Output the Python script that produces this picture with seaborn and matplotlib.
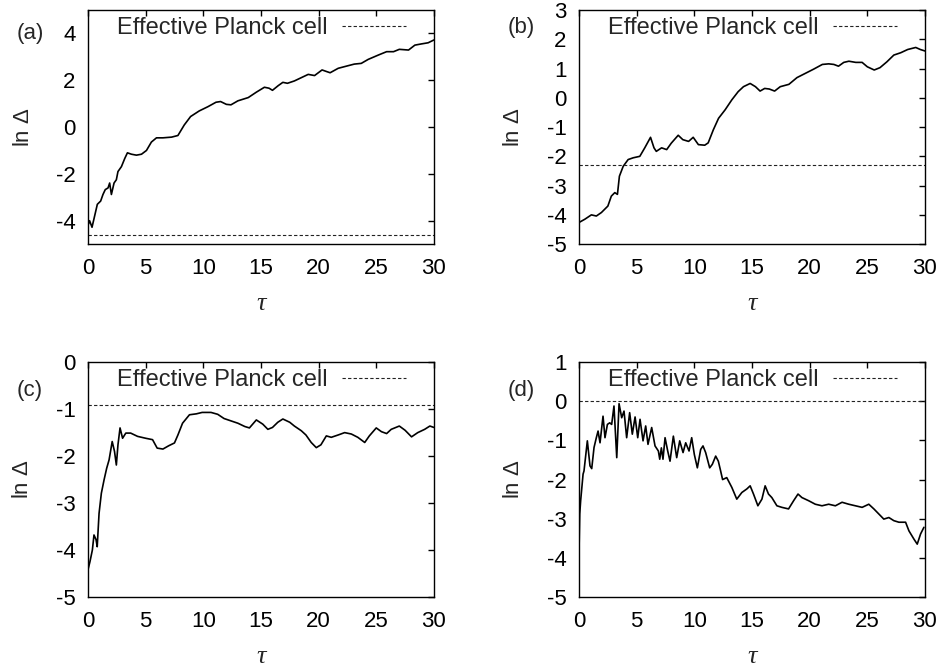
import numpy as np
import pandas as pd
import seaborn as sns
import matplotlib
matplotlib.use("Agg")
import matplotlib.pyplot as plt
from matplotlib.lines import Line2D

# podaci ocitani sa slike: tau i ln(Delta) za svaki panel
tau_a = [0.0, 0.14, 0.35, 0.58, 0.81, 1.1, 1.3, 1.5, 1.74, 1.88, 2.03, 2.26, 2.46, 2.6, 2.9,
         3.19, 3.42, 3.77, 4.2, 4.64, 5.07, 5.5, 5.94, 6.5, 7.25, 7.8, 8.35, 8.9, 9.65, 10.4,
         11.1, 11.5, 12.0, 12.4, 13.0, 13.9, 14.6, 15.3, 15.7, 16.0, 16.5, 16.9, 17.3, 17.9,
         18.5, 19.1, 19.65, 20.3, 20.7, 21.0, 21.7, 22.55, 23.1, 23.7, 24.3, 25.2, 25.9, 26.5,
         27.0, 27.8, 28.35, 28.9, 29.5, 30.0]
lnd_a = [-4.2, -4.0, -4.28, -3.79, -3.3, -3.16, -2.88, -2.67, -2.6, -2.39, -2.88, -2.39, -2.25,
         -1.9, -1.69, -1.34, -1.1, -1.16, -1.2, -1.16, -1.0, -0.64, -0.46, -0.46, -0.43, -0.36,
         0.09, 0.45, 0.69, 0.87, 1.06, 1.09, 0.97, 0.95, 1.12, 1.26, 1.49, 1.70, 1.66, 1.57,
         1.77, 1.91, 1.87, 1.97, 2.11, 2.25, 2.2, 2.44, 2.37, 2.32, 2.51, 2.62, 2.69, 2.72,
         2.89, 3.08, 3.22, 3.22, 3.32, 3.29, 3.5, 3.55, 3.6, 3.72]

tau_b = [0.0, 0.5, 1.07, 1.5, 1.94, 2.5, 2.8, 3.1, 3.33, 3.5, 3.83, 4.26, 4.7, 5.27, 5.7, 6.2,
         6.5, 6.7, 7.16, 7.6, 8.0, 8.6, 9.0, 9.5, 9.9, 10.35, 10.9, 11.2, 11.65, 12.1, 12.67,
         13.25, 13.8, 14.26, 14.84, 15.3, 15.7, 16.1, 16.5, 16.96, 17.45, 18.2, 18.9, 19.6,
         20.35, 21.1, 21.65, 22.1, 22.5, 22.96, 23.4, 24.0, 24.55, 25.0, 25.6, 26.1, 26.7,
         27.3, 27.9, 28.5, 29.2, 29.6, 30.0]
lnd_b = [-4.26, -4.15, -4.0, -4.04, -3.92, -3.70, -3.36, -3.24, -3.3, -2.68, -2.34, -2.11,
         -2.05, -2.0, -1.71, -1.35, -1.71, -1.83, -1.71, -1.77, -1.55, -1.28, -1.43, -1.49,
         -1.35, -1.6, -1.62, -1.54, -1.09, -0.7, -0.41, -0.07, 0.21, 0.38, 0.49, 0.38, 0.23,
         0.32, 0.30, 0.23, 0.38, 0.46, 0.69, 0.83, 0.98, 1.14, 1.16, 1.14, 1.08, 1.21, 1.25,
         1.21, 1.21, 1.06, 0.95, 1.03, 1.23, 1.46, 1.54, 1.65, 1.72, 1.65, 1.60]

tau_c = [0.0, 0.17, 0.38, 0.52, 0.7, 0.8, 0.96, 1.16, 1.4, 1.62, 1.83, 2.1, 2.3, 2.46, 2.6,
         2.78, 3.0, 3.28, 3.7, 4.3, 5.0, 5.6, 6.0, 6.5, 7.0, 7.5, 7.8, 8.2, 8.8, 9.4, 9.9,
         10.1, 10.67, 11.25, 11.8, 12.4, 13.0, 13.6, 14.0, 14.6, 15.16, 15.6, 16.0, 16.46,
         16.9, 17.5, 17.9, 18.5, 18.9, 19.36, 19.8, 20.2, 20.67, 21.1, 21.7, 22.26, 22.84,
         23.4, 24.0, 24.4, 25.0, 25.45, 25.9, 26.3, 27.0, 27.5, 28.06, 28.6, 29.2, 29.65, 30.0]
lnd_c = [-4.42, -4.25, -4.0, -3.68, -3.78, -3.93, -3.22, -2.79, -2.5, -2.26, -2.08, -1.69,
         -1.9, -2.19, -1.76, -1.40, -1.62, -1.51, -1.51, -1.58, -1.62, -1.65, -1.83, -1.85,
         -1.78, -1.72, -1.55, -1.3, -1.12, -1.1, -1.07, -1.07, -1.07, -1.11, -1.2, -1.25,
         -1.30, -1.37, -1.40, -1.23, -1.32, -1.43, -1.39, -1.28, -1.21, -1.28, -1.36, -1.46,
         -1.55, -1.71, -1.82, -1.76, -1.57, -1.6, -1.55, -1.50, -1.53, -1.60, -1.71, -1.57,
         -1.40, -1.48, -1.52, -1.43, -1.36, -1.45, -1.59, -1.5, -1.43, -1.36, -1.39]

tau_d = [0.0, 0.06, 0.14, 0.35, 0.43, 0.72, 0.95, 1.1, 1.3, 1.5, 1.65, 1.82, 2.08, 2.25,
         2.46, 2.66, 2.83, 3.03, 3.27, 3.47, 3.7, 3.9, 4.13, 4.39, 4.62, 4.86, 5.09, 5.29,
         5.55, 5.78, 5.98, 6.3, 6.59, 6.88, 7.0, 7.14, 7.28, 7.46, 7.69, 7.89, 8.18, 8.47,
         8.73, 9.02, 9.25, 9.54, 9.77, 10.0, 10.26, 10.55, 10.75, 10.98, 11.33, 11.56, 11.85,
         12.08, 12.28, 12.45, 12.81, 13.25, 13.68, 14.12, 14.55, 14.84, 15.13, 15.51, 15.86,
         16.14, 16.43, 16.72, 17.16, 17.59, 18.17, 18.61, 18.99, 19.33, 19.91, 20.49, 21.07,
         21.65, 22.23, 22.81, 23.39, 23.97, 24.55, 25.13, 25.57, 26.0, 26.43, 26.87, 27.3,
         27.74, 28.32, 28.61, 29.04, 29.33, 29.62, 29.91]
lnd_d = [-3.8, -2.88, -2.54, -1.86, -1.78, -1.01, -1.65, -1.72, -1.18, -0.93, -0.76, -1.06,
         -0.38, -0.93, -0.59, -0.55, -0.59, -0.12, -1.44, -0.06, -0.42, -0.25, -0.93, -0.29,
         -0.84, -0.40, -0.93, -0.46, -1.01, -0.63, -1.10, -0.67, -1.14, -1.27, -1.48, -1.19,
         -1.48, -0.93, -1.27, -1.53, -0.89, -1.44, -1.01, -1.31, -1.06, -1.27, -0.93, -1.36,
         -1.70, -1.23, -1.14, -1.31, -1.70, -1.61, -1.40, -1.53, -1.78, -2.0, -1.95, -2.2,
         -2.50, -2.33, -2.24, -2.16, -2.37, -2.67, -2.50, -2.16, -2.37, -2.46, -2.67, -2.71,
         -2.75, -2.54, -2.37, -2.46, -2.54, -2.63, -2.67, -2.63, -2.67, -2.58, -2.63, -2.67,
         -2.71, -2.63, -2.75, -2.88, -3.01, -2.97, -3.05, -3.09, -3.09, -3.31, -3.52, -3.65,
         -3.39, -3.22]

# razina efektivne Planckove celije (ln Delta)
planck = [-4.61, -2.30, -0.92, 0.0]
panel_labels = ["(a)", "(b)", "(c)", "(d)"]
ylims = [(-5, 5), (-5, 3), (-5, 0), (-5, 1)]
yticks = [[-4, -2, 0, 2, 4], [-5, -4, -3, -2, -1, 0, 1, 2, 3],
          [-5, -4, -3, -2, -1, 0], [-5, -4, -3, -2, -1, 0, 1]]

sns.set_theme(style="white")
plt.rcParams["font.family"] = ["Liberation Sans", "DejaVu Sans"]
plt.rcParams["mathtext.fontset"] = "custom"
plt.rcParams["mathtext.it"] = "Liberation Sans:italic"
plt.rcParams["mathtext.rm"] = "Liberation Sans"
plt.rcParams["axes.unicode_minus"] = False

fig = plt.figure(figsize=(9.4, 6.67), dpi=100)
rects = [[0.0936, 0.634, 0.368, 0.351], [0.616, 0.634, 0.368, 0.351],
         [0.0936, 0.105, 0.368, 0.352], [0.616, 0.105, 0.368, 0.352]]
label_pos = [(0.032, 0.950), (0.555, 0.959), (0.032, 0.415), (0.555, 0.415)]
curves = [(tau_a, lnd_a), (tau_b, lnd_b), (tau_c, lnd_c), (tau_d, lnd_d)]

for i in range(4):
    ax = fig.add_axes(rects[i])
    df = pd.DataFrame({"tau": curves[i][0], "lnd": curves[i][1]})
    sns.lineplot(data=df, x="tau", y="lnd", ax=ax, color="black", lw=1.2,
                 sort=False, estimator=None)
    ax.axhline(planck[i], color="#222222", lw=0.8, ls=(0, (3, 2)))
    ax.set_xlim(0, 30)
    ax.set_ylim(*ylims[i])
    ax.set_xticks([0, 5, 10, 15, 20, 25, 30])
    ax.set_yticks(yticks[i])
    ax.tick_params(direction="in", length=4, width=1, top=True, right=True,
                   labelsize=16, colors="black")
    ax.tick_params(axis="x", pad=10)
    ax.tick_params(axis="y", pad=9)
    for s in ax.spines.values():
        s.set_color("black")
        s.set_linewidth(1.0)
    ax.set_xlabel("τ", fontsize=19, family="Liberation Serif", style="italic", labelpad=10)
    ax.set_ylabel(r"ln $\mathit{\Delta}$", fontsize=16, labelpad=16)
    h = Line2D([], [], color="#222222", lw=0.8, ls=(0, (3, 2)))
    ax.legend([h], ["Effective Planck cell"], loc="upper right", markerfirst=False,
              frameon=False, fontsize=17, handlelength=2.7, handletextpad=0.6,
              borderpad=0, borderaxespad=0, bbox_to_anchor=(1 - 28 / 346, 0.97))
    fig.text(label_pos[i][0], label_pos[i][1], panel_labels[i], fontsize=16,
             ha="center", va="center")

fig.savefig("out.png", dpi=100)
